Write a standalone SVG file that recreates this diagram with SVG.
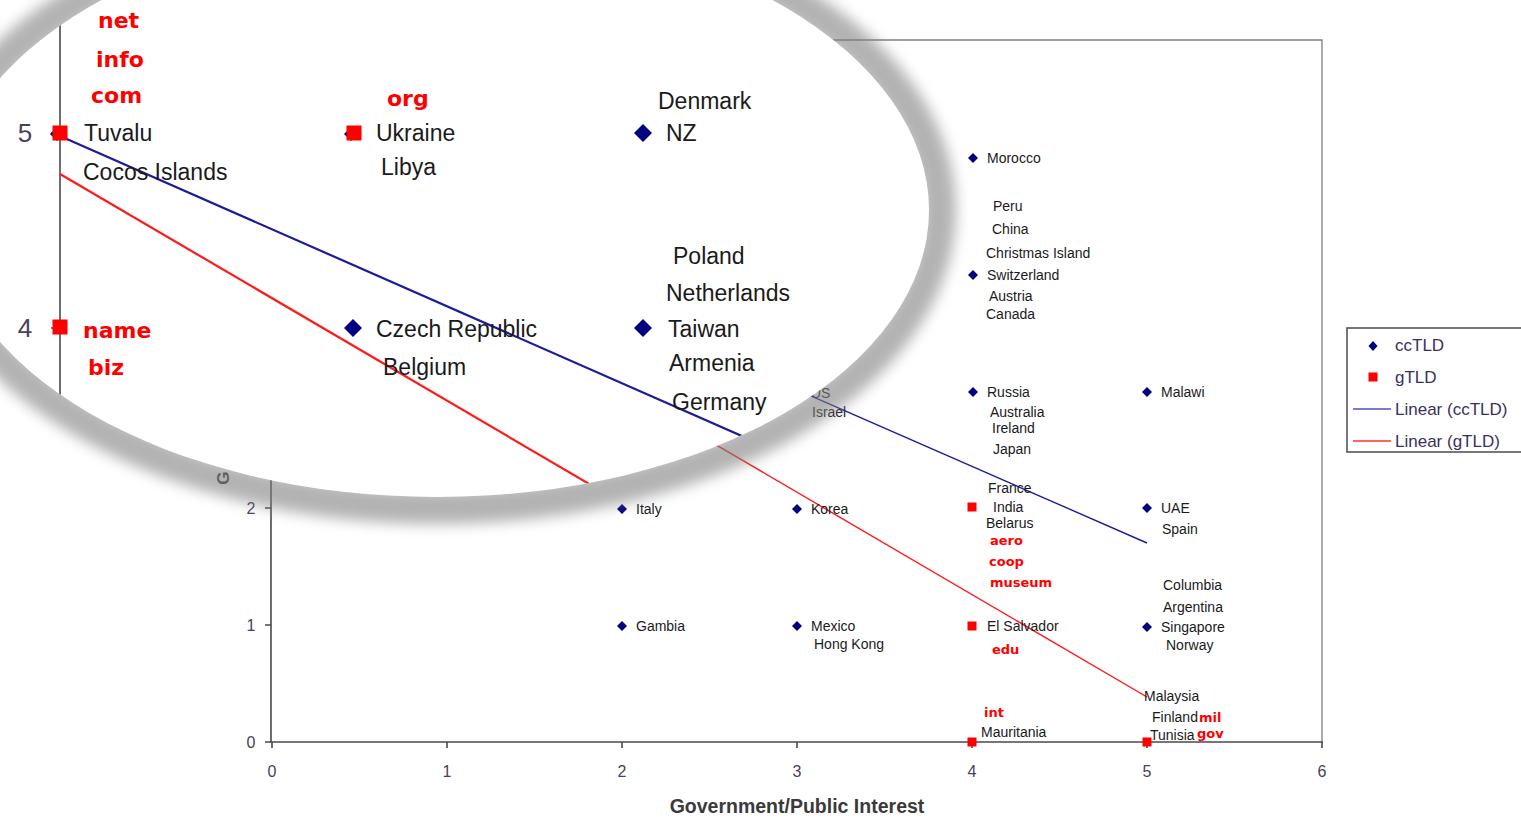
<svg xmlns="http://www.w3.org/2000/svg" xmlns:xlink="http://www.w3.org/1999/xlink" width="1521" height="820" viewBox="0 0 1521 820">
<defs>
<style>
.lbl{font-family:"Liberation Sans",Arial,sans-serif;font-size:14px;fill:#1a1a1a;dominant-baseline:central}
.glbl{font-family:"DejaVu Sans",Verdana,sans-serif;font-weight:bold;font-size:13px;fill:#ff0000;dominant-baseline:central}
.mlbl{font-family:"Liberation Sans",Arial,sans-serif;font-size:23px;fill:#1a1a1a;dominant-baseline:central}
.mglbl{font-family:"DejaVu Sans",Verdana,sans-serif;font-weight:bold;font-size:22px;fill:#ff0000;dominant-baseline:central}
.tick{font-family:"Liberation Sans",Arial,sans-serif;font-size:16px;fill:#4a4060;text-anchor:middle;dominant-baseline:central}
.mtick{font-family:"Liberation Sans",Arial,sans-serif;font-size:26px;fill:#4a4060;text-anchor:middle;dominant-baseline:central}
.leg{font-family:"Liberation Sans",Arial,sans-serif;font-size:17px;fill:#3b2f5e;dominant-baseline:central}
.axis{stroke:#4a4a4a;stroke-width:1.6;fill:none}
.frame{stroke:#808080;stroke-width:1.3;fill:none}
.tl-cc{stroke:#1c1c96;stroke-width:1.4;fill:none}
.tl-g{stroke:#ff1a1a;stroke-width:1.4;fill:none}
.mtl-cc{stroke:#1c1c96;stroke-width:2.2;fill:none}
.mtl-g{stroke:#ff1a1a;stroke-width:2.2;fill:none}
</style>
<path id="dia" d="M0,-5 L5,0 L0,5 L-5,0Z" fill="#000080"/>
<rect id="sq" x="-4.5" y="-4.5" width="9" height="9" fill="#ff0000"/>
<path id="mdia" d="M0,-9 L9,0 L0,9 L-9,0Z" fill="#000080"/>
<path id="mdia-s" d="M0,-7 L7,0 L0,7 L-7,0Z" fill="#000080"/>
<rect id="msq" x="-7.5" y="-7.5" width="15" height="15" fill="#ff0000"/>
<clipPath id="lens"><ellipse cx="437" cy="210" rx="492" ry="287"/></clipPath>
<filter id="soft" x="-20%" y="-20%" width="140%" height="140%"><feGaussianBlur stdDeviation="7"/></filter>
</defs>

<rect width="1521" height="820" fill="#ffffff"/>

<!-- underlying chart axes -->
<g id="axes">
  <path class="frame" d="M272,40 H1322 V742"/>
  <path class="axis" d="M271,40 V742 H1323"/>
  <path class="axis" d="M265,508 H271 M265,625 H271 M265,742 H271"/>
  <path class="axis" d="M272,742 V748 M447,742 V748 M622,742 V748 M797,742 V748 M972,742 V748 M1147,742 V748 M1322,742 V748"/>
  <text class="tick" x="251" y="508">2</text>
  <text class="tick" x="251" y="625">1</text>
  <text class="tick" x="251" y="742">0</text>
  <text class="tick" x="272" y="771">0</text>
  <text class="tick" x="447" y="771">1</text>
  <text class="tick" x="622" y="771">2</text>
  <text class="tick" x="797" y="771">3</text>
  <text class="tick" x="972" y="771">4</text>
  <text class="tick" x="1147" y="771">5</text>
  <text class="tick" x="1322" y="771">6</text>
  <text x="223" y="478" transform="rotate(-90 223 478)" style="font-family:'Liberation Sans',Arial,sans-serif;font-size:17px;font-weight:bold;fill:#333;dominant-baseline:central;text-anchor:middle">G</text>
  <text x="797" y="806" style="font-family:'Liberation Sans',Arial,sans-serif;font-size:19.5px;font-weight:bold;fill:#3a3a3a;text-anchor:middle;dominant-baseline:central">Government/Public Interest</text>
</g>

<!-- trend lines -->
<g id="connectors">
  <line class="tl-cc" x1="272" y1="160" x2="1147" y2="543"/>
  <line class="tl-g" x1="272" y1="185" x2="1147" y2="697"/>
</g>

<!-- underlying data points -->
<g id="n-morocco"><use xlink:href="#dia" x="973" y="158"/><text class="lbl" x="987" y="158">Morocco</text></g>
<g id="n-peru-group">
  <text class="lbl" x="993" y="206">Peru</text>
  <text class="lbl" x="992" y="229">China</text>
  <text class="lbl" x="986" y="253">Christmas Island</text>
</g>
<g id="n-switzerland"><use xlink:href="#dia" x="973" y="275"/><text class="lbl" x="987" y="275">Switzerland</text>
  <text class="lbl" x="989" y="296">Austria</text><text class="lbl" x="986" y="314">Canada</text></g>
<g id="n-russia"><use xlink:href="#dia" x="973" y="392"/><text class="lbl" x="987" y="392">Russia</text>
  <text class="lbl" x="990" y="412">Australia</text><text class="lbl" x="992" y="428">Ireland</text><text class="lbl" x="993" y="449">Japan</text></g>
<g id="n-malawi"><use xlink:href="#dia" x="1147" y="392"/><text class="lbl" x="1161" y="392">Malawi</text></g>
<g id="n-us"><use xlink:href="#dia" x="797" y="392"/><text class="lbl" x="811" y="393">US</text><text class="lbl" x="812" y="412">Israel</text></g>
<g id="n-france"><use xlink:href="#sq" x="972" y="507"/>
  <text class="lbl" x="988" y="488">France</text><text class="lbl" x="993" y="507">India</text><text class="lbl" x="986" y="523">Belarus</text>
  <text class="glbl" x="990" y="540">aero</text><text class="glbl" x="989" y="561">coop</text><text class="glbl" x="990" y="582">museum</text></g>
<g id="n-uae"><use xlink:href="#dia" x="1147" y="508"/><text class="lbl" x="1161" y="508">UAE</text><text class="lbl" x="1162" y="529">Spain</text></g>
<g id="n-italy"><use xlink:href="#dia" x="622" y="509"/><text class="lbl" x="636" y="509">Italy</text></g>
<g id="n-korea"><use xlink:href="#dia" x="797" y="509"/><text class="lbl" x="811" y="509">Korea</text></g>
<g id="n-gambia"><use xlink:href="#dia" x="622" y="626"/><text class="lbl" x="636" y="626">Gambia</text></g>
<g id="n-mexico"><use xlink:href="#dia" x="797" y="626"/><text class="lbl" x="811" y="626">Mexico</text><text class="lbl" x="814" y="644">Hong Kong</text></g>
<g id="n-elsalvador"><use xlink:href="#sq" x="972" y="626"/><text class="lbl" x="987" y="626">El Salvador</text><text class="glbl" x="992" y="649">edu</text></g>
<g id="n-singapore"><use xlink:href="#dia" x="1147" y="627"/>
  <text class="lbl" x="1163" y="585">Columbia</text><text class="lbl" x="1163" y="607">Argentina</text>
  <text class="lbl" x="1161" y="627">Singapore</text><text class="lbl" x="1166" y="645">Norway</text></g>
<g id="n-mauritania"><use xlink:href="#sq" x="972" y="742"/><text class="glbl" x="984" y="712">int</text><text class="lbl" x="981" y="732">Mauritania</text></g>
<g id="n-tunisia"><use xlink:href="#sq" x="1147" y="742"/>
  <text class="lbl" x="1144" y="696">Malaysia</text><text class="lbl" x="1152" y="717">Finland</text><text class="glbl" x="1199" y="717">mil</text>
  <text class="lbl" x="1150" y="735">Tunisia</text><text class="glbl" x="1197" y="733">gov</text></g>

<!-- magnifier lens -->
<g id="lens-shadow">
  <ellipse cx="437" cy="210" rx="502" ry="297" fill="none" stroke="#808080" stroke-width="34" opacity="0.6" filter="url(#soft)"/>
</g>
<ellipse id="lens-face" cx="437" cy="210" rx="492" ry="287" fill="#ffffff"/>

<g id="magnified" clip-path="url(#lens)">
  <path class="axis" d="M60,20 V420" stroke-width="2.4"/>
  <path class="axis" d="M51,133 H60 M51,328 H60" stroke-width="2.2"/>
  <text class="mtick" x="25" y="133">5</text>
  <text class="mtick" x="25" y="328">4</text>
  <g id="m-connectors">
    <line class="mtl-cc" x1="60" y1="136" x2="960" y2="532"/>
    <line class="mtl-g" x1="60" y1="174" x2="900" y2="666"/>
  </g>
  <g id="m-tuvalu"><use xlink:href="#mdia-s" x="57" y="134"/><use xlink:href="#msq" x="60" y="133"/>
    <text class="mglbl" x="98" y="20">net</text><text class="mglbl" x="96" y="59">info</text><text class="mglbl" x="91" y="95">com</text>
    <text class="mlbl" x="84" y="133">Tuvalu</text><text class="mlbl" x="83" y="172">Cocos Islands</text></g>
  <g id="m-ukraine"><use xlink:href="#mdia-s" x="351" y="134"/><use xlink:href="#msq" x="354" y="133"/>
    <text class="mglbl" x="387" y="98">org</text>
    <text class="mlbl" x="376" y="133">Ukraine</text><text class="mlbl" x="381" y="167">Libya</text></g>
  <g id="m-nz"><use xlink:href="#mdia" x="643" y="133"/>
    <text class="mlbl" x="658" y="101">Denmark</text><text class="mlbl" x="666" y="133">NZ</text></g>
  <g id="m-name"><use xlink:href="#msq" x="60" y="327"/>
    <text class="mglbl" x="83" y="330">name</text><text class="mglbl" x="88" y="367">biz</text></g>
  <g id="m-czech"><use xlink:href="#mdia" x="353" y="328"/>
    <text class="mlbl" x="376" y="329">Czech Republic</text><text class="mlbl" x="383" y="367">Belgium</text></g>
  <g id="m-taiwan"><use xlink:href="#mdia" x="643" y="328"/>
    <text class="mlbl" x="673" y="256">Poland</text><text class="mlbl" x="666" y="293">Netherlands</text>
    <text class="mlbl" x="668" y="329">Taiwan</text><text class="mlbl" x="669" y="363">Armenia</text><text class="mlbl" x="672" y="402">Germany</text></g>
</g>

<!-- legend -->
<g id="legend">
  <rect x="1347" y="328" width="190" height="124" fill="#ffffff" stroke="#555" stroke-width="1.6"/>
  <path d="M1373,341 L1377.5,346 L1373,351 L1368.5,346Z" fill="#000080"/>
  <rect x="1368.5" y="372.5" width="9" height="9" fill="#ff0000"/>
  <line x1="1353" y1="409" x2="1391" y2="409" stroke="#4c4cc8" stroke-width="1.4"/>
  <line x1="1353" y1="441" x2="1391" y2="441" stroke="#ff3030" stroke-width="1.4"/>
  <text class="leg" x="1395" y="345">ccTLD</text>
  <text class="leg" x="1395" y="377">gTLD</text>
  <text class="leg" x="1395" y="409">Linear (ccTLD)</text>
  <text class="leg" x="1395" y="441">Linear (gTLD)</text>
</g>
</svg>
